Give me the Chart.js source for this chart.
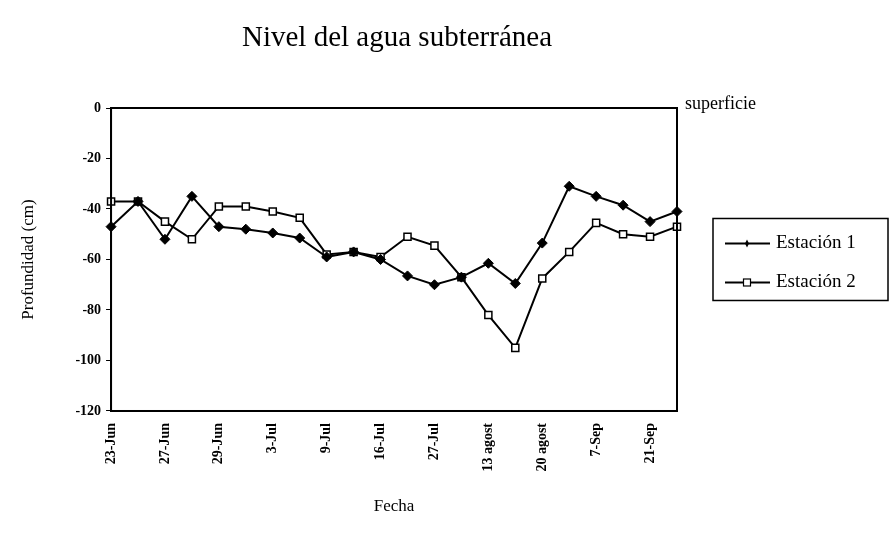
<!DOCTYPE html>
<html>
<head>
<meta charset="utf-8">
<script src="https://cdn.jsdelivr.net/npm/chart.js@4.4.0/dist/chart.umd.min.js"></script>
<style>
    html, body { margin: 0; padding: 0; background: #fff; }
    #wrap { width: 890px; height: 543px; }
</style>
</head>
<body>
<div id="wrap"><canvas id="nivelChart" width="890" height="543"></canvas></div>
<script>
// Fechas (solo se rotulan una de cada dos)
const fechas = ['23-Jun', '', '27-Jun', '', '29-Jun', '', '3-Jul', '', '9-Jul', '', '16-Jul', '',
    '27-Jul', '', '13 agost', '', '20 agost', '', '7-Sep', '', '21-Sep', ''];

// Profundidad (cm) por estación
const estacion1 = [-47, -37, -52, -35, -47, -48, -49.5, -51.5, -59, -57, -60, -66.5,
    -70, -67, -61.5, -69.5, -53.5, -31, -35, -38.5, -45, -41];
const estacion2 = [-37, -37, -45, -52, -39, -39, -41, -43.5, -58, -57, -59, -51,
    -54.5, -67, -82, -95, -67.5, -57, -45.5, -50, -51, -47];

const yTicks = [0, -20, -40, -60, -80, -100, -120];

const SERIF = '"Liberation Serif", "Times New Roman", serif';

// Título, marco, texto "superficie" y leyenda con recuadro
const marcoPlugin = {
    id: 'marco',
    afterDraw(chart) {
        const { ctx, chartArea: a } = chart;
        ctx.save();
        ctx.fillStyle = '#000';
        ctx.textAlign = 'center';
        ctx.textBaseline = 'middle';
        ctx.font = `29px ${SERIF}`;
        ctx.fillText('Nivel del agua subterránea', 397, 38);

        ctx.strokeStyle = '#000';
        ctx.lineWidth = 2;
        ctx.strokeRect(a.left, a.top, a.right - a.left, a.bottom - a.top);

        ctx.font = `18px ${SERIF}`;
        ctx.textAlign = 'left';
        ctx.fillText('superficie', a.right + 8, a.top - 4);

        // Leyenda
        const lx = a.right + 36;
        const ly = (a.top + a.bottom) / 2 - 41;
        ctx.lineWidth = 1.5;
        ctx.strokeRect(lx, ly, 175, 82);
        chart.data.datasets.forEach((ds, i) => {
            const y = ly + 25 + i * 39;
            ctx.lineWidth = 2;
            ctx.beginPath();
            ctx.moveTo(lx + 12, y);
            ctx.lineTo(lx + 57, y);
            ctx.stroke();
            const cx = lx + 34;
            if (ds.pointStyle === 'rect') {
                ctx.fillStyle = '#fff';
                ctx.fillRect(cx - 3.5, y - 3.5, 7, 7);
                ctx.lineWidth = 1.2;
                ctx.strokeRect(cx - 3.5, y - 3.5, 7, 7);
            } else {
                ctx.fillStyle = '#000';
                ctx.beginPath();
                ctx.moveTo(cx, y - 4);
                ctx.lineTo(cx + 2, y);
                ctx.lineTo(cx, y + 4);
                ctx.lineTo(cx - 2, y);
                ctx.closePath();
                ctx.fill();
            }
            ctx.fillStyle = '#000';
            ctx.font = `19px ${SERIF}`;
            ctx.fillText(ds.label, lx + 63, y);
        });
        ctx.restore();
    }
};

const ctx = document.getElementById('nivelChart').getContext('2d');
new Chart(ctx, {
    type: 'line',
    data: {
        labels: fechas,
        datasets: [
            {
                label: 'Estación 1',
                data: estacion1,
                borderColor: '#000',
                borderWidth: 2,
                pointStyle: 'rectRot',
                pointRadius: 5,
                pointBackgroundColor: '#000',
                pointBorderColor: '#000',
                pointBorderWidth: 1,
                tension: 0
            },
            {
                label: 'Estación 2',
                data: estacion2,
                borderColor: '#000',
                borderWidth: 2,
                pointStyle: 'rect',
                pointRadius: 5,
                pointBackgroundColor: '#fff',
                pointBorderColor: '#000',
                pointBorderWidth: 1.5,
                tension: 0
            }
        ]
    },
    options: {
        responsive: false,
        animation: false,
        devicePixelRatio: 1,
        layout: {
            padding: { top: 108, left: 14, right: 213, bottom: 22 }
        },
        plugins: {
            legend: { display: false },
            tooltip: { enabled: false },
            title: { display: false }
        },
        scales: {
            x: {
                type: 'category',
                offset: false,
                grid: { display: false },
                border: { display: true, color: '#000', width: 2 },
                ticks: {
                    autoSkip: false,
                    maxRotation: 90,
                    minRotation: 90,
                    color: '#000',
                    padding: 4,
                    font: { family: SERIF, size: 14, weight: 'bold' }
                },
                title: {
                    display: true,
                    text: 'Fecha',
                    color: '#000',
                    font: { family: SERIF, size: 17 },
                    padding: { top: 21, bottom: 4 }
                }
            },
            y: {
                min: -120,
                max: 0,
                afterBuildTicks(axis) {
                    axis.ticks = yTicks.map(v => ({ value: v }));
                },
                grid: { drawOnChartArea: false, tickLength: 5, color: '#000' },
                border: { display: true, color: '#000', width: 2 },
                ticks: {
                    color: '#000',
                    padding: 5,
                    font: { family: SERIF, size: 14, weight: 'bold' }
                },
                title: {
                    display: true,
                    text: 'Profundidad (cm)',
                    color: '#000',
                    font: { family: SERIF, size: 17 },
                    padding: { top: 4, bottom: 32 }
                }
            }
        }
    },
    plugins: [marcoPlugin]
});
</script>
</body>
</html>
